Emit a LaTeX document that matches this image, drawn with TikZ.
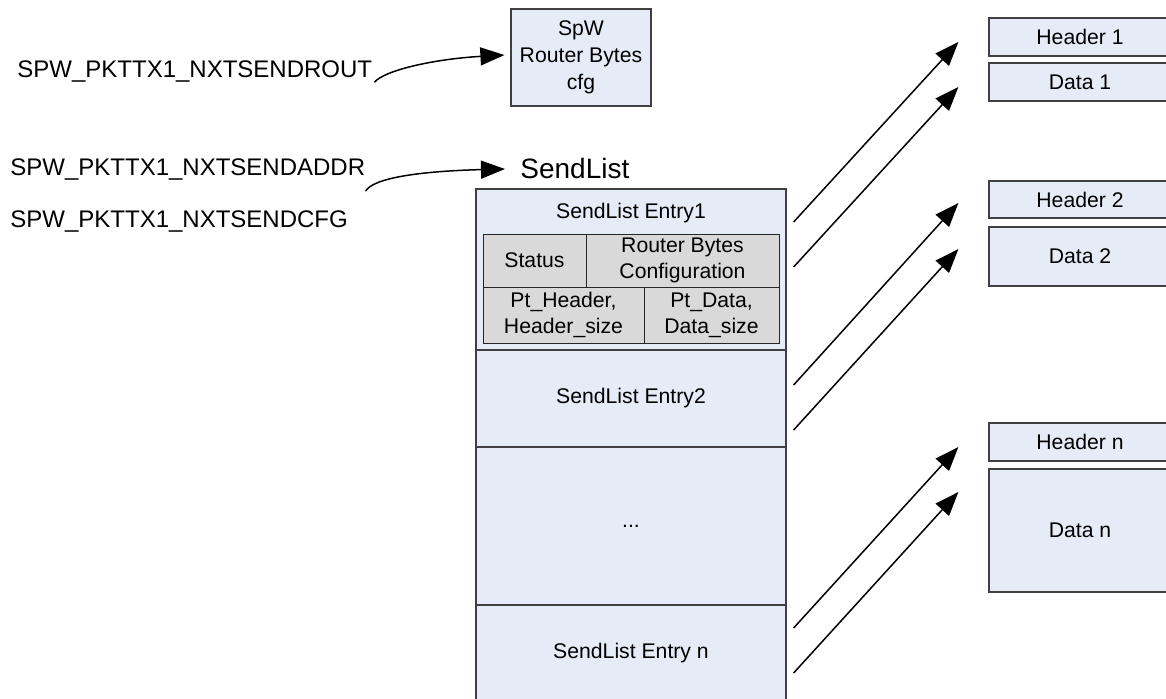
\documentclass[tikz,border=0pt]{standalone}
\usepackage{fontspec}
\setmainfont{Liberation Sans}
\usetikzlibrary{arrows.meta}
\definecolor{boxfill}{RGB}{230,236,247}
\definecolor{cellfill}{RGB}{217,217,217}
\definecolor{edgegray}{RGB}{64,64,64}

\begin{document}
\begin{tikzpicture}[x=0.5pt,y=-0.5pt,
  block/.style={draw=edgegray,fill=boxfill,line width=0.6pt,inner sep=0pt,
    align=center,font=\fontsize{10.6}{13}\selectfont},
  cell/.style={draw=black!85,fill=cellfill,line width=0.5pt,inner sep=0pt,
    align=center,font=\fontsize{10.6}{13}\selectfont},
  reg/.style={anchor=west,inner sep=0pt,font=\fontsize{12}{14}\selectfont},
  ptr/.style={-{Triangle[length=12pt,width=9pt]},line width=0.75pt}]
\useasboundingbox (0,0) rectangle (1166,698);
% registers
\node[reg] (rout) at (17,71) {SPW\_PKTTX1\_NXTSENDROUT};
\node[reg] (addr) at (10,169) {SPW\_PKTTX1\_NXTSENDADDR};
\node[reg] (cfg) at (10,221) {SPW\_PKTTX1\_NXTSENDCFG};
% router bytes
\node[block,minimum width=70pt,minimum height=48.5pt,
  font=\fontsize{10.6}{13.5}\selectfont] (spw) at (581,57.5)
  {SpW\\Router Bytes\\cfg};
% send list
\node[anchor=west,inner sep=0pt,font=\fontsize{14}{16}\selectfont]
  (head) at (520,168) {SendList};
\node[block,minimum width=155pt,minimum height=80.5pt] (entry1) at (631,269.5) {};
\node[block,minimum width=155pt,minimum height=48.5pt] (entry2) at (631,398.5)
  {SendList Entry2};
\node[block,minimum width=155pt,minimum height=79pt] (dots) at (631,526) {...};
\node[block,minimum width=155pt,minimum height=48pt] (entryn) at (631,653)
  {SendList Entry n};
\node[font=\fontsize{10.6}{13}\selectfont,inner sep=0pt] (title1) at (631,213)
  {SendList Entry1};
\node[cell,minimum width=51.5pt,minimum height=26.5pt] (status) at (534.5,260.5)
  {Status};
\node[cell,minimum width=96.5pt,minimum height=26.5pt] (rbcfg) at (682.5,260.5)
  {Router Bytes\\Configuration};
\node[cell,minimum width=80.5pt,minimum height=28pt] (pthdr) at (563.5,315)
  {Pt\_Header,\\Header\_size};
\node[cell,minimum width=67.5pt,minimum height=28pt] (ptdat) at (711.5,315)
  {Pt\_Data,\\Data\_size};
% buffers
\node[block,minimum width=91pt,minimum height=19pt] (hdr1) at (1080,37) {Header 1};
\node[block,minimum width=91pt,minimum height=19pt] (dat1) at (1080,82) {Data 1};
\node[block,minimum width=91pt,minimum height=18.5pt] (hdr2) at (1080,199.5) {Header 2};
\node[block,minimum width=91pt,minimum height=29.5pt] (dat2) at (1080,256.5) {Data 2};
\node[block,minimum width=91pt,minimum height=19pt] (hdrn) at (1080,442) {Header n};
\node[block,minimum width=91pt,minimum height=61.5pt] (datn) at (1080,530.5) {Data n};
% pointers
\draw[ptr] ([shift={(2,0)}]rout.south east) .. controls +(10,-12) and +(-70,4)
  .. ([shift={(-6,-2.5)}]spw.west);
\draw[ptr] ([shift={(0,11)}]addr.south east) .. controls +(8,-14) and +(-80,2)
  .. ([shift={(-15,1)}]head.west);
\draw[ptr] ([shift={(7,-47.5)}]entry1.east) -- ([shift={(-30,5)}]hdr1.west);
\draw[ptr] ([shift={(7,-2.5)}]entry1.east) -- ([shift={(-30,5)}]dat1.west);
\draw[ptr] ([shift={(7,-13.5)}]entry2.east) -- ([shift={(-30,3.5)}]hdr2.west);
\draw[ptr] ([shift={(7,31.5)}]entry2.east) -- ([shift={(-30,-7.5)}]dat2.west);
\draw[ptr] ([shift={(7,-25)}]entryn.east) -- ([shift={(-30,5)}]hdrn.west);
\draw[ptr] ([shift={(7,20)}]entryn.east) -- ([shift={(-30,-38.5)}]datn.west);
\end{tikzpicture}
\end{document}
